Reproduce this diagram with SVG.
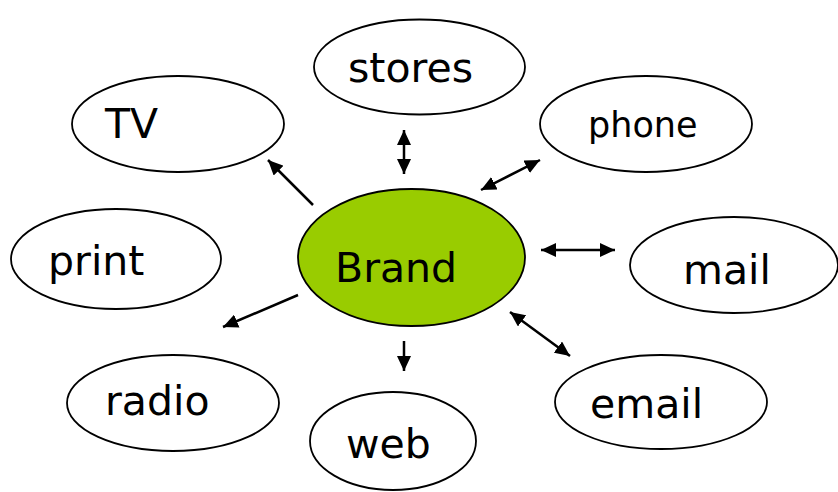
<svg xmlns="http://www.w3.org/2000/svg" width="838" height="492" viewBox="0 0 838 492">
<style>
.n{fill:#fff;stroke:#000;stroke-width:1.8}
.b{fill:#99cc00;stroke:#000;stroke-width:1.8}
text{font-family:"DejaVu Sans",Verdana,sans-serif;font-size:41px;fill:#000}
.c line{stroke:#000;stroke-width:2.5}
</style>
<defs>
<marker id="ah" markerUnits="userSpaceOnUse" markerWidth="16" markerHeight="14" refX="15" refY="7" orient="auto-start-reverse">
<path d="M0,0 L15,7 L0,14 z" fill="#000"/>
</marker>
</defs>
<g id="stores"><ellipse class="n" cx="419.5" cy="67" rx="105.5" ry="47.5"/><text x="348" y="82">stores</text></g>
<g id="tv"><ellipse class="n" cx="178" cy="124" rx="106" ry="48"/><text x="105" y="138">TV</text></g>
<g id="phone"><ellipse class="n" cx="646" cy="124" rx="106" ry="48"/><text x="588" y="137" style="font-size:35px">phone</text></g>
<g id="print"><ellipse class="n" cx="116" cy="259" rx="105" ry="50"/><text x="48" y="275">print</text></g>
<g id="brand"><ellipse class="b" cx="411.5" cy="257.5" rx="113.5" ry="68.5"/><text x="335" y="282">Brand</text></g>
<g id="mail"><ellipse class="n" cx="734" cy="265" rx="104" ry="48"/><text x="683" y="284">mail</text></g>
<g id="radio"><ellipse class="n" cx="173" cy="403" rx="106" ry="48"/><text x="105" y="415">radio</text></g>
<g id="web"><ellipse class="n" cx="393" cy="441" rx="83" ry="49"/><text x="346" y="458">web</text></g>
<g id="email"><ellipse class="n" cx="661" cy="402" rx="106" ry="47"/><text x="590" y="418">email</text></g>
<g id="connectors" class="c">
<line x1="404" y1="130" x2="404" y2="174" marker-start="url(#ah)" marker-end="url(#ah)"/>
<line x1="313" y1="205" x2="268" y2="160" marker-end="url(#ah)"/>
<line x1="481" y1="190" x2="540" y2="160" marker-start="url(#ah)" marker-end="url(#ah)"/>
<line x1="541" y1="250" x2="615" y2="250" marker-start="url(#ah)" marker-end="url(#ah)"/>
<line x1="298" y1="295" x2="223" y2="327" marker-end="url(#ah)"/>
<line x1="404" y1="341" x2="404" y2="371" marker-end="url(#ah)"/>
<line x1="510" y1="312" x2="570" y2="356" marker-start="url(#ah)" marker-end="url(#ah)"/>
</g>
</svg>
